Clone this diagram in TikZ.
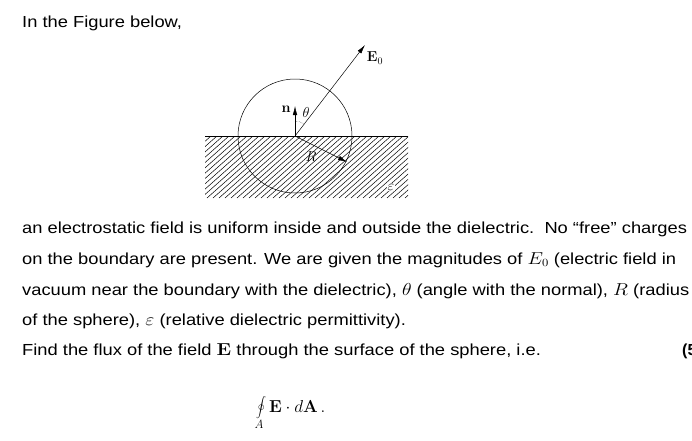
\documentclass[tikz,border=0pt]{standalone}
\usepackage[no-math]{fontspec}
\setmainfont{Liberation Sans}
\usetikzlibrary{arrows.meta}
\newcommand{\wide}[1]{\scalebox{1.145}[1]{#1}}

\begin{document}
\begin{tikzpicture}
			[x=1pt,y=-1pt,
			 txt/.style={anchor=base west,inner sep=0,font=\fontsize{16}{18}\selectfont},
			 vec/.style={semithin,-{Latex[length=9pt,width=4.5pt]}},
			 semithin/.style={line width=0.5pt},
			 label/.style={inner sep=1pt,font=\fontsize{14}{16}\selectfont}]
			\useasboundingbox (0,0) rectangle (692,440);
			% dielectric
			\begin{scope}
			  \clip (205,136) rectangle (408,198);
			  \foreach \i in {0,6,...,270}
			    \draw [semithin] (205+\i-70,198) -- (205+\i,136);
			\end{scope}
			\draw [semithin] (205,136) -- (408,136);
			\coordinate (o) at (295,136);
			\draw [semithin] (o) circle [radius=57];
			\coordinate (n) at (295,106);
			\coordinate (e) at (365,45);
			\coordinate (r) at (347,162);
			\draw [vec] (o) -- (n);
			\draw [vec] (o) -- (e);
			\draw [vec] (o) -- (r);
			\draw [densely dotted] (295,121) arc [start angle=-90,end angle=-52,radius=15];
			\node (nl) [label] at (286,109) {$\mathbf{n}$};
			\node (tl) [label] at (306,112) {$\theta$};
			\node (el) [label] at (375,58) {$\mathbf{E}_0$};
			\node (rl) [label] at (311,157) {$R$};
			\node (epsl) [label,fill=white,inner sep=0.5pt] at (391,187) {$\varepsilon$};

			% text
			\node (t0) [txt] at (22,27) {\wide{In the Figure below,}};
			\node (t1) [txt] at (22,233) {\wide{an electrostatic field is uniform inside and outside the dielectric.\ \ No “free” charges}};
			\node (t2) [txt] at (22,264) {\wide{on the boundary are present. We are given the magnitudes of $E_0$ (electric field in}};
			\node (t3) [txt] at (22,295) {\wide{vacuum near the boundary with the dielectric), $\theta$ (angle with the normal), $R$ (radius}};
			\node (t4) [txt] at (22,325) {\wide{of the sphere), $\varepsilon$ (relative dielectric permittivity).}};
			\node (t5) [txt] at (22,355) {\wide{Find the flux of the field $\mathbf{E}$ through the surface of the sphere, i.e.}};
			\node (t6) [txt,font=\fontsize{16}{18}\bfseries] at (682,355) {(5};
			\node (int) [txt,font=\fontsize{18}{20}\selectfont] at (256,412) {$\displaystyle\oint\limits_{A}\mathbf{E}\cdot d\mathbf{A}\,.$};
	  \end{tikzpicture}
\end{document}
